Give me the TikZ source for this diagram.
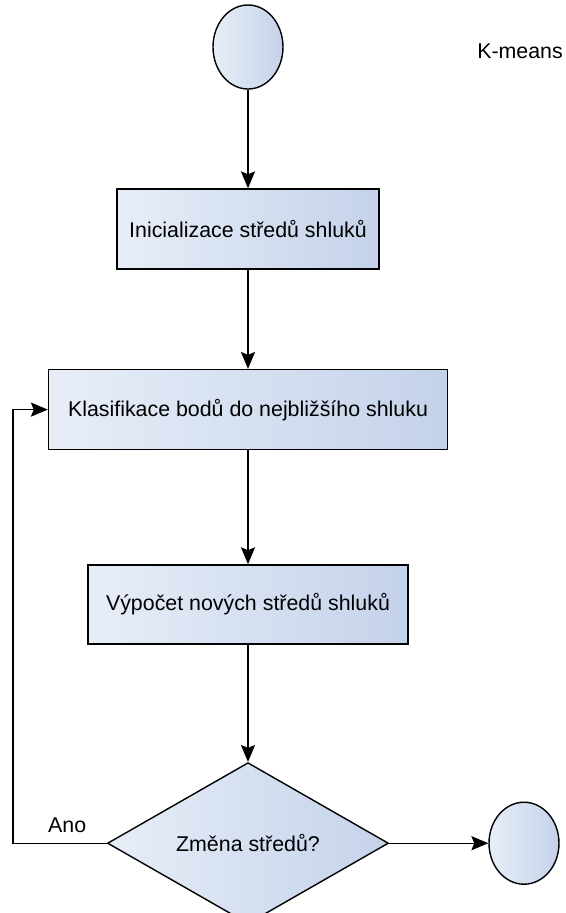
\documentclass[tikz,border=0pt]{standalone}
\usepackage{fontspec}
\setmainfont{Liberation Sans}
\usetikzlibrary{arrows.meta,shapes.geometric}
\definecolor{boxleft}{RGB}{232,238,248}
\definecolor{boxright}{RGB}{196,210,234}
\tikzset{
  block/.style={draw=black, line width=1pt, rectangle, left color=boxleft, right color=boxright,
    minimum height=2cm, font=\fontsize{15.2}{17}\selectfont},
  term/.style={draw=black, line width=1pt, ellipse, left color=boxleft, right color=boxright,
    minimum width=1.75cm, minimum height=2.1cm},
  decide/.style={draw=black, line width=1pt, diamond, left color=boxleft, right color=boxright,
    minimum width=7.025cm, minimum height=3.6cm, inner sep=0pt, font=\fontsize{15.2}{17}\selectfont},
  flow/.style={line width=1pt, -{Stealth[length=12pt,width=10pt,inset=2pt]}}
}

\begin{document}
\begin{tikzpicture}
		%%%%% START %%%%%
		\useasboundingbox (0,0) rectangle (14.15,-22.825);
		
		\node[term] (start) at (6.2,-1.175) {};
		\node[font=\fontsize{15.2}{17}\selectfont] (title) at (13.0,-1.275) {K-means};
		
		\node[block, minimum width=6.55cm] (init) at (6.2,-5.725) {Inicializace středů shluků};
		\node[block, minimum width=9.975cm] (classify) at (6.2,-10.24) {Klasifikace bodů do nejbližšího shluku};
		\node[block, minimum width=8.0cm, minimum height=1.975cm] (update) at (6.2,-15.11) {Výpočet nových středů shluků};
		
		\node[decide] (change) at (6.2,-21.08) {Změna středů?};
		\node[term, minimum height=2.05cm] (stop) at (13.1,-21.08) {};
		
		\draw[flow] (start) -- (init);
		\draw[flow] (init) -- (classify);
		\draw[flow] (classify) -- (update);
		\draw[flow] (update) -- (change);
		\draw[flow] (change) -- (stop);
		
		\coordinate (back) at (0.325,-21.08);
		\draw[flow] (change.west) -- (back) |- (classify.west);
		\node[font=\fontsize{15.2}{17}\selectfont] (ano) at (1.68,-20.62) {Ano};
		%%%%% END %%%%%
	\end{tikzpicture}
\end{document}
